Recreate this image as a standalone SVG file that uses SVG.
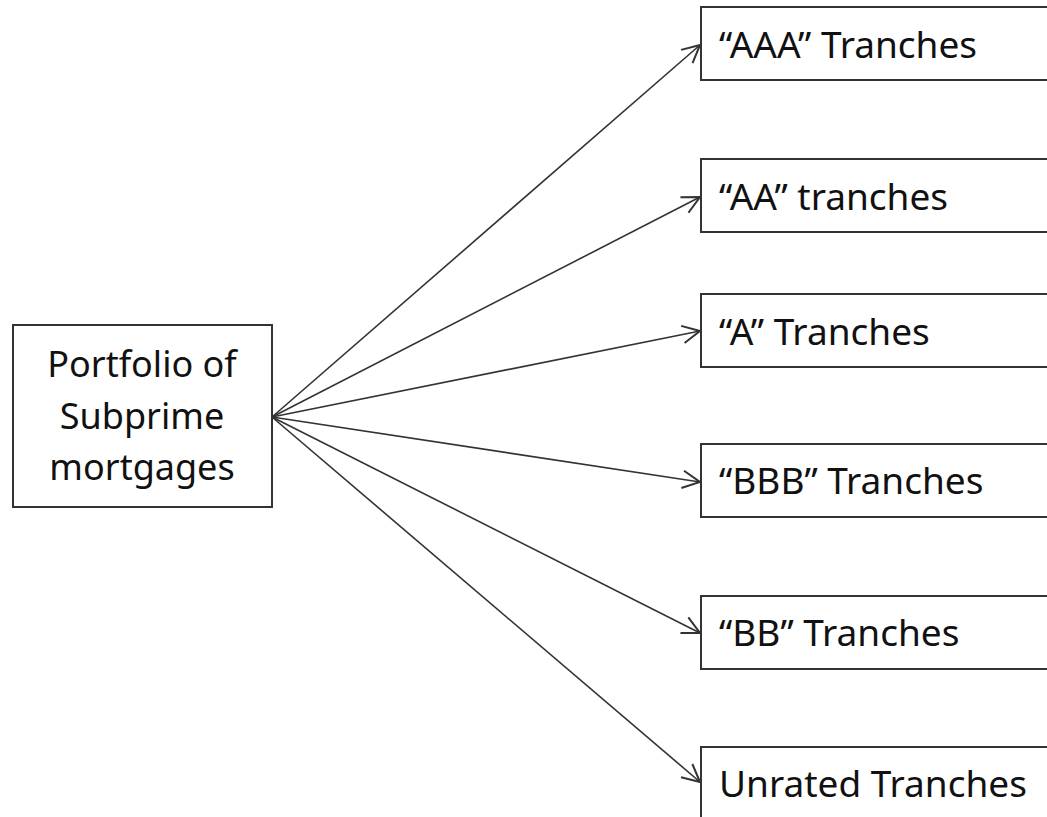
<svg xmlns="http://www.w3.org/2000/svg" width="1047" height="817" viewBox="0 0 1047 817">
<style>
.box{fill:#fff;stroke:#333;stroke-width:2}
.t{font-family:"Noto Sans","Open Sans",sans-serif;font-size:37px;fill:#111}
.tl{font-family:"Noto Sans","Open Sans",sans-serif;font-size:36px;fill:#111}
.c{stroke:#333;stroke-width:1.6;fill:none}
</style>
<defs>
<marker id="ah" markerUnits="userSpaceOnUse" markerWidth="20" markerHeight="20" viewBox="0 0 16 16" refX="15" refY="8" orient="auto">
<path d="M1,1 L15,8 L1,15" fill="none" stroke="#333" stroke-width="1.6"/>
</marker>
</defs>
<rect width="1047" height="817" fill="#fff"/>
<g id="connectors">
<line class="c" x1="272" y1="417" x2="700" y2="45" marker-end="url(#ah)"/>
<line class="c" x1="272" y1="417" x2="700" y2="197" marker-end="url(#ah)"/>
<line class="c" x1="272" y1="417" x2="700" y2="331" marker-end="url(#ah)"/>
<line class="c" x1="272" y1="417" x2="700" y2="482" marker-end="url(#ah)"/>
<line class="c" x1="272" y1="417" x2="700" y2="633" marker-end="url(#ah)"/>
<line class="c" x1="272" y1="417" x2="700" y2="782" marker-end="url(#ah)"/>
</g>
<g id="portfolio">
<rect class="box" x="13" y="325" width="259" height="182"/>
<text class="tl" x="142" y="377" text-anchor="middle">Portfolio of</text>
<text class="tl" x="142" y="429" text-anchor="middle">Subprime</text>
<text class="tl" x="142" y="480" text-anchor="middle">mortgages</text>
</g>
<g id="aaa">
<rect class="box" x="701" y="7" width="360" height="73"/>
<text class="t" x="719" y="58">“AAA” Tranches</text>
</g>
<g id="aa">
<rect class="box" x="701" y="159" width="360" height="73"/>
<text class="t" x="719" y="210">“AA” tranches</text>
</g>
<g id="a">
<rect class="box" x="701" y="294" width="360" height="73"/>
<text class="t" x="719" y="345">“A” Tranches</text>
</g>
<g id="bbb">
<rect class="box" x="701" y="444" width="360" height="73"/>
<text class="t" x="719" y="494">“BBB” Tranches</text>
</g>
<g id="bb">
<rect class="box" x="701" y="596" width="360" height="73"/>
<text class="t" x="719" y="646">“BB” Tranches</text>
</g>
<g id="unrated">
<rect class="box" x="701" y="747" width="360" height="73"/>
<text class="t" x="719" y="797">Unrated Tranches</text>
</g>
</svg>
